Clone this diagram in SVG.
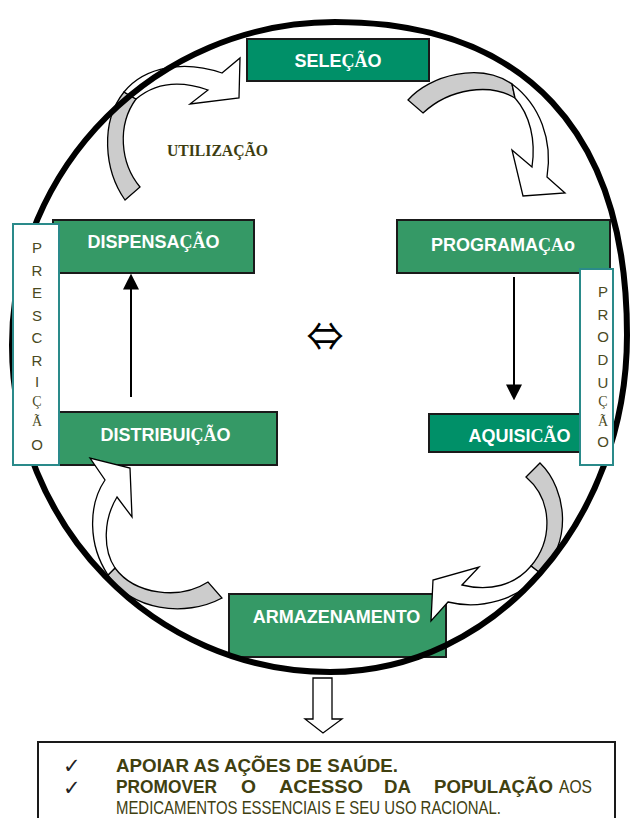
<svg xmlns="http://www.w3.org/2000/svg" width="630" height="818" viewBox="0 0 630 818">
<style>
.box{stroke:#1a1a1a;stroke-width:2}
.dark{fill:#009068}
.light{fill:#359966}
.lbl{font-family:"Liberation Sans",Arial,sans-serif;font-weight:bold;font-size:18px;fill:#fff;text-anchor:middle}
.ser{font-family:"Liberation Serif","Times New Roman",serif}
.side{fill:#fff;stroke:#2a8a8a;stroke-width:2}
.vl{font-family:"Liberation Sans",Arial,sans-serif;font-size:15px;fill:#4a4a1e;text-anchor:middle}
.vs{font-family:"Liberation Serif","Times New Roman",serif;font-size:14px}
.band{stroke:#000;stroke-width:1.3;stroke-linejoin:miter}
.gray{fill:#cccccc}
.white{fill:#fff}
.line{stroke:#000;stroke-width:2;fill:none}
.bt{font-family:"Liberation Sans Narrow","Liberation Sans",Arial,sans-serif;font-size:19px;fill:#404010}
.b{font-weight:bold}
.ck{font-family:"DejaVu Sans",sans-serif;font-size:21px;fill:#222}
</style>
<defs>
<marker id="ah" markerUnits="userSpaceOnUse" markerWidth="16" markerHeight="16" viewBox="0 0 15 15" refX="9" refY="7.5" orient="auto">
<path d="M0,0 L15,7.5 L0,15 Z" fill="#000"/>
</marker>
</defs>
<rect width="630" height="818" fill="#fff"/>

<g id="armazenamento">
<rect class="box light" x="229" y="594" width="217" height="63"/>
<text class="lbl" x="336.5" y="623">ARMAZENAMENTO</text>
</g>
<g id="selecao">
<rect class="box dark" x="247" y="39" width="182" height="42"/>
<text class="lbl" x="338" y="67">SELE<tspan class="ser">ÇÃ</tspan>O</text>
</g>
<g id="dispensacao">
<rect class="box light" x="53" y="220" width="201" height="53"/>
<text class="lbl" x="153.5" y="248">DISPENSA<tspan class="ser">ÇÃ</tspan>O</text>
</g>
<g id="programacao">
<rect class="box light" x="397" y="220" width="213" height="53"/>
<text class="lbl" x="503" y="251">PROGRAMA<tspan class="ser">ÇA</tspan>o</text>
</g>
<g id="distribuicao">
<rect class="box light" x="55" y="412" width="222" height="53"/>
<text class="lbl" x="165.5" y="441">DISTRIBUI<tspan class="ser">ÇÃ</tspan>O</text>
</g>
<g id="aquisicao">
<rect class="box dark" x="429" y="414" width="156" height="38"/>
<text class="lbl" x="519.5" y="442">AQUISI<tspan class="ser">CÃ</tspan>O</text>
</g>

<g id="connectors">
<path class="band gray" d="M125,200 C104,170 100,122 124,92 L136,99 C117,125 120,163 140,187 Z"/>
<path class="band white" d="M124,92 C145,66 185,60 222,73 L240,58 L239,98 L190,104 L208,90 C180,80 155,83 136,99 Z"/>
<path class="band gray" d="M408,100 C430,75 480,62 512,84 L515,98 C490,83 450,88 423,113 Z"/>
<path class="band white" d="M512,84 C540,105 553,140 547,177 L565,193 L523,196 L512,150 L532,167 C536,140 530,115 515,98 Z"/>
<path class="band gray" d="M540,463 C568,490 572,545 540,573 L531,566 C553,540 553,500 526,477 Z"/>
<path class="band white" d="M540,573 C520,600 480,610 448,602 L431,621 L433,580 L479,567 L462,585 C490,592 515,585 531,566 Z"/>
<path class="band gray" d="M222,598 C185,618 130,610 108,575 L115,568 C135,595 180,600 208,582 Z"/>
<path class="band white" d="M108,575 C88,545 88,505 105,480 L90,458 L130,468 L132,517 L117,497 C103,520 103,550 115,568 Z"/>
<line class="line" x1="131" y1="397" x2="131" y2="280" marker-end="url(#ah)"/>
<line class="line" x1="514" y1="277" x2="514" y2="394" marker-end="url(#ah)"/>
<path class="band white" d="M313,678 L332,678 L332,719 L342,719 L323,733 L305,719 L313,719 Z"/>
</g>

<path id="cycle" d="M335,22 C525,22 627,132 627,335 C627,521 494,672 330,672 C154,672 12,525 12,345 C12,167 157,22 335,22 Z" fill="none" stroke="#000" stroke-width="6"/>

<g id="prescricao">
<rect class="side" x="13" y="224" width="46" height="241"/>
<text class="vl">
<tspan x="37" y="253">P</tspan><tspan x="37" y="276">R</tspan><tspan x="37" y="298">E</tspan><tspan x="37" y="321">S</tspan><tspan x="37" y="343">C</tspan><tspan x="37" y="366">R</tspan><tspan x="37" y="387">I</tspan><tspan class="vs" x="37" y="406">Ç</tspan><tspan class="vs" x="37" y="426">Ã</tspan><tspan x="37" y="450">O</tspan>
</text>
</g>
<g id="producao">
<rect class="side" x="580" y="269" width="33" height="196"/>
<text class="vl">
<tspan x="603" y="297">P</tspan><tspan x="603" y="320">R</tspan><tspan x="603" y="342">O</tspan><tspan x="603" y="365">D</tspan><tspan x="603" y="388">U</tspan><tspan class="vs" x="603" y="406">Ç</tspan><tspan class="vs" x="603" y="426">Ã</tspan><tspan x="603" y="447">O</tspan>
</text>
</g>

<g id="utilizacao">
<text x="167" y="156" font-family="Liberation Serif,Times New Roman,serif" font-weight="bold" font-size="16" fill="#3d3d10" textLength="101" lengthAdjust="spacingAndGlyphs">UTILIZAÇÃO</text>
</g>
<g id="symbol">
<text x="325" y="351" font-family="Noto Sans CJK JP,DejaVu Sans,sans-serif" font-size="40" text-anchor="middle" fill="#000" textLength="37" lengthAdjust="spacingAndGlyphs">⇔</text>
</g>

<g id="objetivos">
<rect x="38" y="742" width="577" height="100" fill="#fff" stroke="#1a1a1a" stroke-width="2"/>
<text class="ck" x="63" y="773">✓</text>
<text class="ck" x="63" y="795">✓</text>
<text class="bt b" x="116" y="772" textLength="282" lengthAdjust="spacingAndGlyphs">APOIAR AS AÇÕES DE SAÚDE.</text>
<text class="bt b" x="116" y="793" textLength="101" lengthAdjust="spacingAndGlyphs">PROMOVER</text>
<text class="bt b" x="241" y="793" textLength="15" lengthAdjust="spacingAndGlyphs">O</text>
<text class="bt b" x="279" y="793" textLength="84" lengthAdjust="spacingAndGlyphs">ACESSO</text>
<text class="bt b" x="384" y="793" textLength="27" lengthAdjust="spacingAndGlyphs">DA</text>
<text class="bt b" x="434" y="793" textLength="119" lengthAdjust="spacingAndGlyphs">POPULAÇÃO</text>
<text class="bt" x="559" y="793" textLength="33" lengthAdjust="spacingAndGlyphs">AOS</text>
<text class="bt" x="116" y="814" textLength="385" lengthAdjust="spacingAndGlyphs">MEDICAMENTOS ESSENCIAIS E SEU USO RACIONAL.</text>
</g>
</svg>
